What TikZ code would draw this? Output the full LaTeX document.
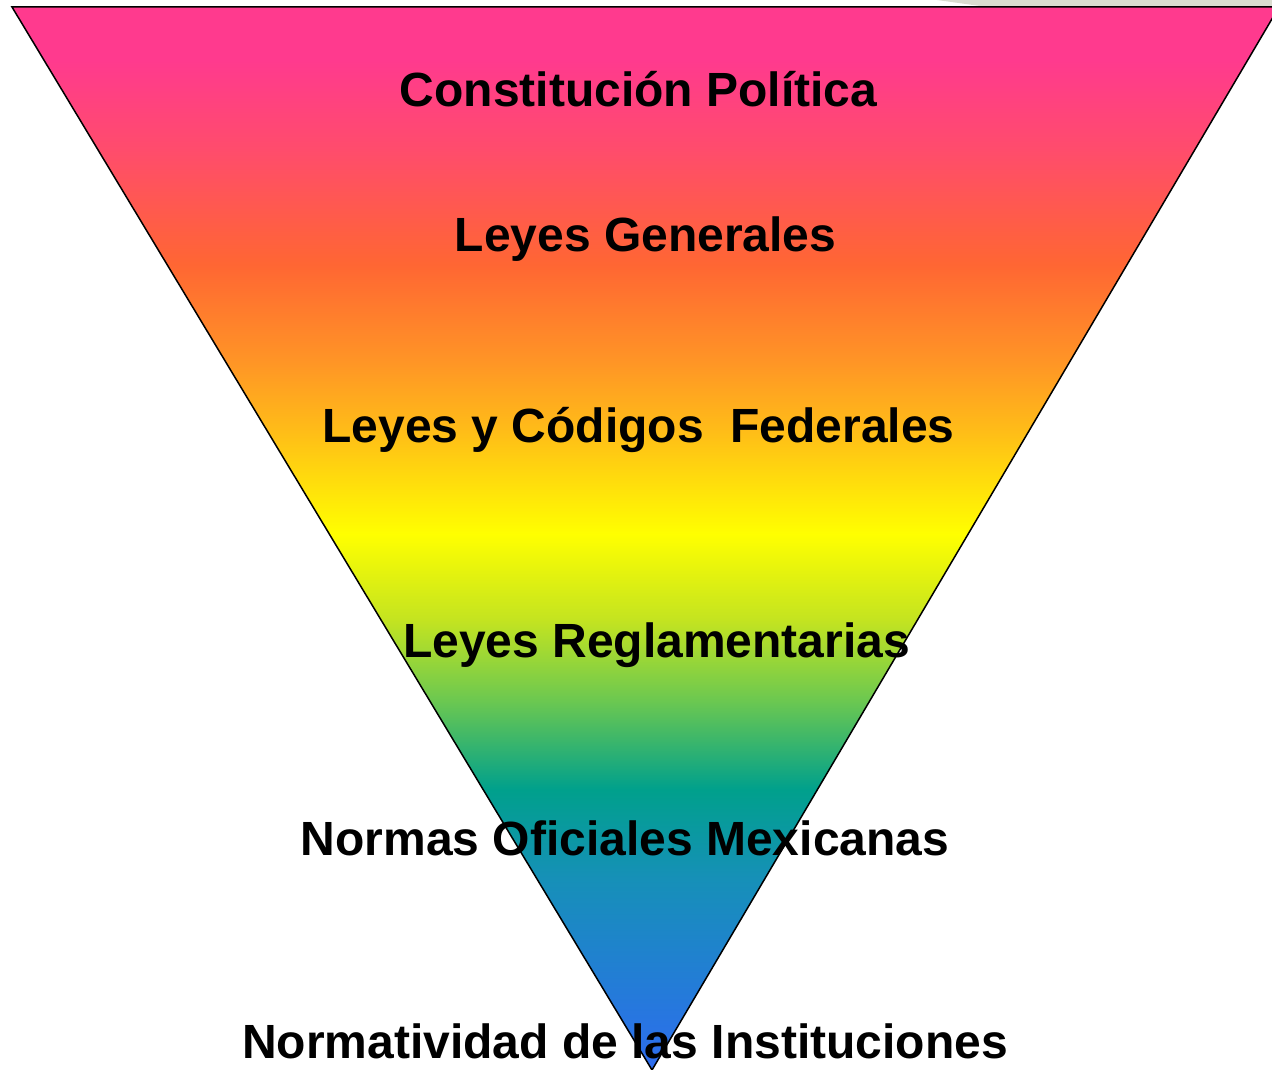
\documentclass[tikz,border=0pt]{standalone}
\usepackage{fontspec}
\setmainfont{Liberation Sans}
\usepackage{xcolor}
\usepackage{tikz}
\definecolor{PyrPink}{HTML}{FF3A8E}
\definecolor{PyrRose}{HTML}{FF4C6C}
\definecolor{PyrRed}{HTML}{FF6633}
\definecolor{PyrOrange}{HTML}{FF9426}
\definecolor{PyrAmber}{HTML}{FFBC18}
\definecolor{PyrYellow}{HTML}{FFFF00}
\definecolor{PyrLime}{HTML}{C4E420}
\definecolor{PyrGreen}{HTML}{6CC850}
\definecolor{PyrTeal}{HTML}{00A08C}
\definecolor{PyrSea}{HTML}{1690B8}
\definecolor{PyrBlue}{HTML}{2E6CF0}
\definecolor{ShadowGray}{HTML}{DADCD0}
\pgfdeclareverticalshading{pyramid}{100bp}{color(0bp)=(PyrBlue); color(25bp)=(PyrBlue); color(34bp)=(PyrSea); color(38.2bp)=(PyrTeal); color(42.4bp)=(PyrGreen); color(46.2bp)=(PyrLime); color(50.2bp)=(PyrYellow); color(55.1bp)=(PyrAmber); color(58.4bp)=(PyrOrange); color(62.9bp)=(PyrRed); color(68.3bp)=(PyrRose); color(72.5bp)=(PyrPink); color(75bp)=(PyrPink); color(100bp)=(PyrPink)}

\begin{document}
\begin{tikzpicture}[
    x=0.5pt, y=-0.5pt,
    level/.style={anchor=base, inner sep=0pt, text=black, font=\bfseries\fontsize{24}{28}\selectfont},
    pyr/.style={draw=black, line width=0.75pt, shading=pyramid}
]
\useasboundingbox (0,0) rectangle (1272,1069);
\clip (0,0) rectangle (1272,1069);

\fill[ShadowGray] (937,0) -- (1272,0) -- (1272,6) -- (980,6) -- cycle;

\coordinate (tl) at (12,7);
\coordinate (tr) at (1279,7);
\coordinate (apex) at (652,1070);
\path[pyr] (tl) -- (tr) -- (apex) -- cycle;

\node[level] (a) at (638.5,107) {Constitución Política};
\node[level] (b) at (645.5,252) {Leyes Generales};
\node[level] (c) at (638.5,442) {Leyes y Códigos~ Federales};
\node[level] (d) at (656.5,657) {Leyes Reglamentarias};
\node[level] (e) at (625,855) {Normas Oficiales Mexicanas};
\node[level] (f) at (625,1058) {Normatividad de las Instituciones};

\end{tikzpicture}
\end{document}
